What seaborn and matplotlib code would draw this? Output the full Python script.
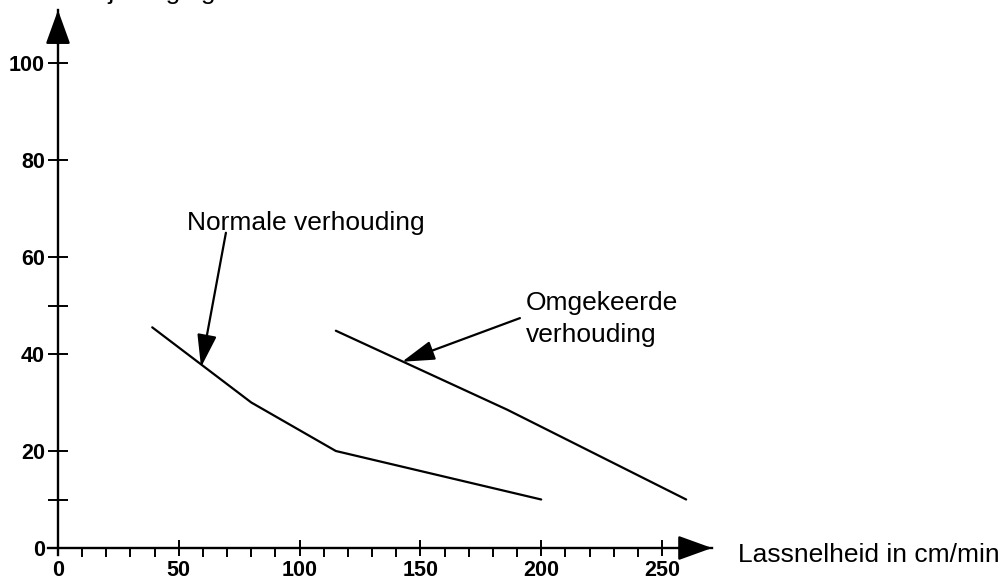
import matplotlib
matplotlib.use("Agg")
import matplotlib.pyplot as plt
import seaborn as sns
import pandas as pd

# Data
normaal_x = [39, 80, 115, 200]
normaal_y = [45.5, 30, 20, 10]
omgekeerd_x = [115, 186, 260]
omgekeerd_y = [44.8, 28.5, 10]

x_major = [0, 50, 100, 150, 200, 250]
x_minor = [v for v in range(10, 250, 10) if v % 50 != 0]
y_major = [0, 20, 40, 60, 80, 100]
y_minor = [10, 50]

df = pd.DataFrame({
    "snelheid": normaal_x + omgekeerd_x,
    "waarde": normaal_y + omgekeerd_y,
    "verhouding": ["Normale verhouding"] * len(normaal_x)
                  + ["Omgekeerde verhouding"] * len(omgekeerd_x),
})

sns.set_theme(style="white", rc={"text.color": "black",
                                 "xtick.color": "black",
                                 "ytick.color": "black",
                                 "axes.labelcolor": "black"})
plt.rcParams["font.family"] = ["Liberation Sans", "DejaVu Sans"]

W, H = 1002, 579
fig = plt.figure(figsize=(W / 100, H / 100), dpi=100)

# pixel mapping: x=0 at 58px, 2.416 px/unit ; y=0 at 548px, 4.85 px/unit
xmin, xmax = -4.0, 270.7
ymin, ymax = -1.44, 110.9
left_px, right_px = 58 + xmin * 2.416, 58 + xmax * 2.416
bot_px, top_px = 548 - ymin * 4.85, 548 - ymax * 4.85
ax = fig.add_axes([left_px / W, 1 - bot_px / H,
                   (right_px - left_px) / W, (bot_px - top_px) / H])
ax.set_facecolor("none")

sns.lineplot(data=df, x="snelheid", y="waarde", hue="verhouding",
             palette=["black", "black"], linewidth=1.6, legend=False,
             ax=ax, sort=False)

ax.set_xlim(xmin, xmax)
ax.set_ylim(ymin, ymax)
ax.set_xlabel("")
ax.set_ylabel("")

for s in ["top", "right"]:
    ax.spines[s].set_visible(False)
ax.spines["bottom"].set_position(("data", 0))
ax.spines["left"].set_position(("data", 0))
for s in ["bottom", "left"]:
    ax.spines[s].set_linewidth(1.7)
    ax.spines[s].set_color("black")

ax.set_xticks(x_major)
ax.set_xticks(x_minor, minor=True)
ax.set_yticks(y_major)
ax.set_yticks(y_minor, minor=True)
ax.set_xticklabels([str(v) for v in x_major], fontsize=15.5, fontweight="bold")
ax.set_yticklabels([str(v) for v in y_major], fontsize=15.5, fontweight="bold")
ax.tick_params(axis="x", which="major", direction="inout", length=12.2,
               width=1.4, color="black", pad=2.5, bottom=True)
ax.tick_params(axis="x", which="minor", direction="out", length=6.5,
               width=1.4, color="black", bottom=True)
ax.tick_params(axis="y", which="both", direction="inout", length=15,
               width=1.4, color="black", pad=1.8, left=True)

# axis arrow heads
arrow_head = dict(arrowstyle="-|>,head_length=1.05,head_width=0.38",
                  mutation_scale=20, color="black", lw=1.7,
                  shrinkA=0, shrinkB=0)
ax.annotate("", xy=(xmax, 0), xytext=(xmax - 14, 0),
            arrowprops=arrow_head, annotation_clip=False)
ax.annotate("", xy=(0, ymax), xytext=(0, ymax - 7),
            arrowprops=arrow_head, annotation_clip=False)

ax.text(281.5, -2.9, "Lassnelheid in cm/min", fontsize=19,
        ha="left", va="baseline", clip_on=False)

# labels of the two curves
ptr = dict(arrowstyle="-|>,head_length=1.0,head_width=0.3",
           mutation_scale=20, color="black", lw=1.6, shrinkA=0, shrinkB=0)
ax.text(53.4, 65.6, "Normale verhouding", fontsize=19, ha="left", va="baseline")
ax.annotate("", xy=(59.2, 37.3), xytext=(69.5, 65), arrowprops=ptr)
ax.text(193.5, 42.5, "Omgekeerde\nverhouding", fontsize=19, ha="left",
        va="baseline", linespacing=1.4)
ax.annotate("", xy=(142.4, 38.4), xytext=(191.2, 47.4), arrowprops=ptr)

# y-axis title, mostly outside the top edge as in the reference
fig.text(85 / W, 1 + 0.5 / H, "Bijmenging in %", fontsize=19,
         ha="left", va="baseline")

fig.savefig("out.png", dpi=100)
